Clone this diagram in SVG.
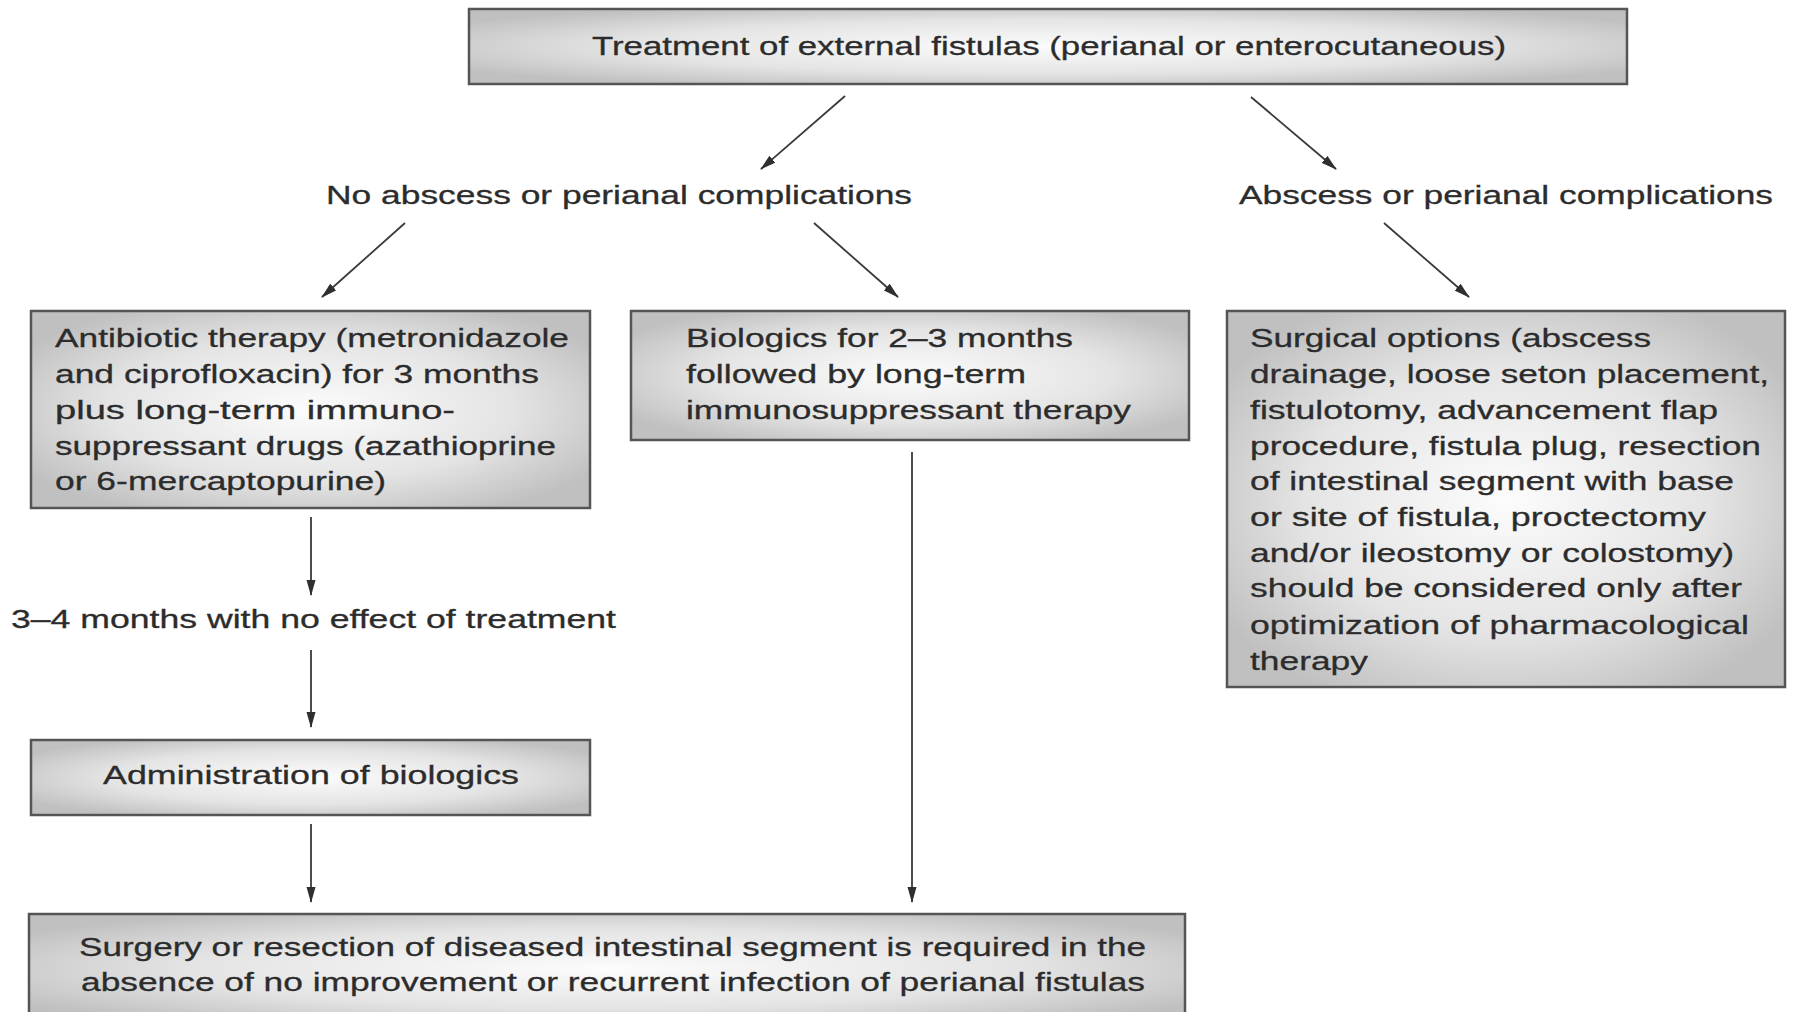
<svg xmlns="http://www.w3.org/2000/svg" width="1795" height="1012" viewBox="0 0 1795 1012">
<defs>
<radialGradient id="g" cx="50%" cy="50%" r="60%">
<stop offset="0" stop-color="#fcfcfc"/>
<stop offset="0.6" stop-color="#e4e4e4"/>
<stop offset="1" stop-color="#c0c0c0"/>
</radialGradient>
<marker id="ah" viewBox="0 0 16 10" refX="15" refY="5" markerWidth="16" markerHeight="10" markerUnits="userSpaceOnUse" orient="auto">
<path d="M0,0.5 L16,5 L0,9.5 Z" fill="#2f2f2f"/>
</marker>
<style>
.box{fill:url(#g);stroke:#555;stroke-width:2.5}
text{font-family:"Liberation Sans",Arial,sans-serif;font-size:26px;fill:#2c2c2c;stroke:#2c2c2c;stroke-width:0.3}
.ln{stroke:#3a3a3a;stroke-width:1.8;fill:none;marker-end:url(#ah)}
</style>
</defs>
<rect width="1795" height="1012" fill="#fff"/>

<g id="top">
<rect class="box" x="469" y="9" width="1158" height="75"/>
<text x="592" y="55" textLength="914" lengthAdjust="spacingAndGlyphs">Treatment of external fistulas (perianal or enterocutaneous)</text>
</g>

<g id="label-no">
<text x="326" y="204" textLength="586" lengthAdjust="spacingAndGlyphs">No abscess or perianal complications</text>
</g>

<g id="label-yes">
<text x="1239" y="204" textLength="534" lengthAdjust="spacingAndGlyphs">Abscess or perianal complications</text>
</g>

<g id="box-antibiotic">
<rect class="box" x="31" y="311" width="559" height="197"/>
<text x="55" y="347" textLength="514" lengthAdjust="spacingAndGlyphs">Antibiotic therapy (metronidazole</text>
<text x="55" y="383" textLength="484" lengthAdjust="spacingAndGlyphs">and ciprofloxacin) for 3 months</text>
<text x="55" y="419" textLength="400" lengthAdjust="spacingAndGlyphs">plus long-term immuno-</text>
<text x="55" y="455" textLength="501" lengthAdjust="spacingAndGlyphs">suppressant drugs (azathioprine</text>
<text x="55" y="490" textLength="331" lengthAdjust="spacingAndGlyphs">or 6-mercaptopurine)</text>
</g>

<g id="box-biologics">
<rect class="box" x="631" y="311" width="558" height="129"/>
<text x="686" y="347" textLength="387" lengthAdjust="spacingAndGlyphs">Biologics for 2–3 months</text>
<text x="686" y="383" textLength="340" lengthAdjust="spacingAndGlyphs">followed by long-term</text>
<text x="686" y="419" textLength="445" lengthAdjust="spacingAndGlyphs">immunosuppressant therapy</text>
</g>

<g id="box-surgical">
<rect class="box" x="1227" y="311" width="558" height="376"/>
<text x="1250" y="347" textLength="401" lengthAdjust="spacingAndGlyphs">Surgical options (abscess</text>
<text x="1250" y="383" textLength="519" lengthAdjust="spacingAndGlyphs">drainage, loose seton placement,</text>
<text x="1250" y="419" textLength="468" lengthAdjust="spacingAndGlyphs">fistulotomy, advancement flap</text>
<text x="1250" y="455" textLength="511" lengthAdjust="spacingAndGlyphs">procedure, fistula plug, resection</text>
<text x="1250" y="490" textLength="484" lengthAdjust="spacingAndGlyphs">of intestinal segment with base</text>
<text x="1250" y="526" textLength="456" lengthAdjust="spacingAndGlyphs">or site of fistula, proctectomy</text>
<text x="1250" y="562" textLength="484" lengthAdjust="spacingAndGlyphs">and/or ileostomy or colostomy)</text>
<text x="1250" y="597" textLength="492" lengthAdjust="spacingAndGlyphs">should be considered only after</text>
<text x="1250" y="634" textLength="499" lengthAdjust="spacingAndGlyphs">optimization of pharmacological</text>
<text x="1250" y="670" textLength="118" lengthAdjust="spacingAndGlyphs">therapy</text>
</g>

<g id="label-noeffect">
<text x="11" y="628" textLength="605" lengthAdjust="spacingAndGlyphs">3–4 months with no effect of treatment</text>
</g>

<g id="box-admin">
<rect class="box" x="31" y="740" width="559" height="75"/>
<text x="103" y="784" textLength="416" lengthAdjust="spacingAndGlyphs">Administration of biologics</text>
</g>

<g id="box-surgery">
<rect class="box" x="29" y="914" width="1156" height="110"/>
<text x="79" y="956" textLength="1067" lengthAdjust="spacingAndGlyphs">Surgery or resection of diseased intestinal segment is required in the</text>
<text x="81" y="991" textLength="1064" lengthAdjust="spacingAndGlyphs">absence of no improvement or recurrent infection of perianal fistulas</text>
</g>

<g id="connectors">
<line class="ln" x1="845" y1="96" x2="761" y2="169"/>
<line class="ln" x1="1251" y1="97" x2="1336" y2="169"/>
<line class="ln" x1="405" y1="223" x2="322" y2="297"/>
<line class="ln" x1="814" y1="223" x2="898" y2="297"/>
<line class="ln" x1="1384" y1="223" x2="1469" y2="297"/>
<line class="ln" x1="311" y1="517" x2="311" y2="595"/>
<line class="ln" x1="311" y1="650" x2="311" y2="727"/>
<line class="ln" x1="311" y1="824" x2="311" y2="902"/>
<line class="ln" x1="912" y1="452" x2="912" y2="902"/>
</g>
</svg>
